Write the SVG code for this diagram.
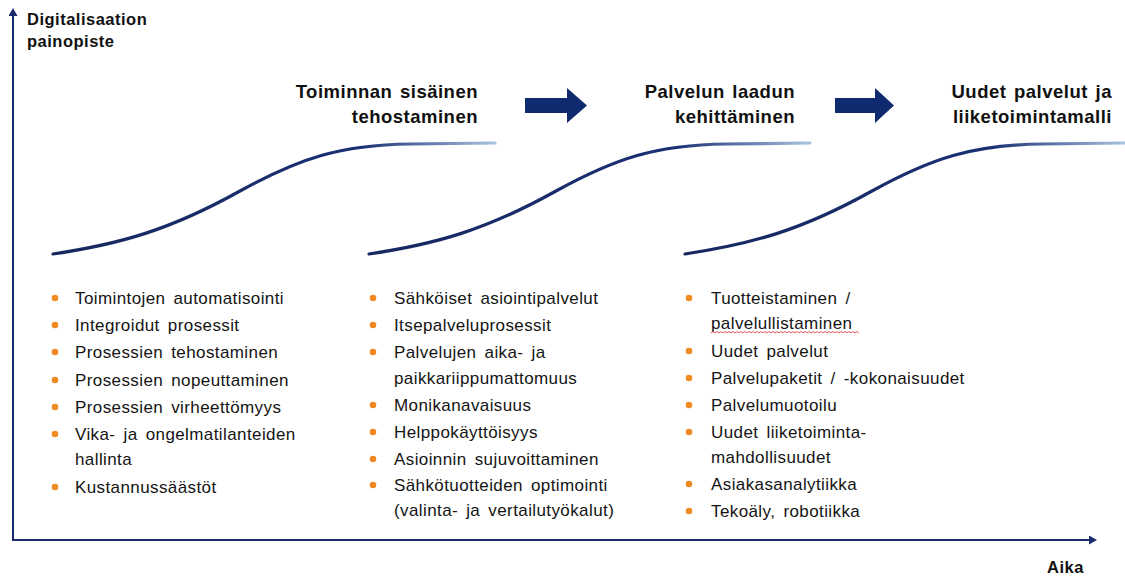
<svg xmlns="http://www.w3.org/2000/svg" width="1125" height="577" viewBox="0 0 1125 577">
<style>
.t{font-family:"Liberation Sans",Arial,sans-serif;font-size:17px;letter-spacing:0.4px;fill:#141414;word-spacing:3px}
.h{font-family:"Liberation Sans",Arial,sans-serif;font-size:18.5px;letter-spacing:0.5px;font-weight:bold;fill:#111;text-anchor:end;word-spacing:2px}
.ax{font-family:"Liberation Sans",Arial,sans-serif;font-size:16.5px;letter-spacing:0.5px;font-weight:bold;fill:#111}
.b{fill:#f08a24}
.curve{fill:none;stroke:url(#cg);stroke-width:3.2;stroke-linecap:round}
.blk{fill:#0f2a6e}
</style>
<defs>
<linearGradient id="cg" x1="0" y1="0" x2="1" y2="0">
<stop offset="0" stop-color="#16285e"/>
<stop offset="0.7" stop-color="#1b3075"/>
<stop offset="1" stop-color="#a9c4e0"/>
</linearGradient>
<marker id="ah" markerWidth="9" markerHeight="9" refX="6" refY="4.5" orient="auto" markerUnits="userSpaceOnUse">
<path d="M0,0 L8,4.5 L0,9 Z" fill="#1a2a6c"/>
</marker>
</defs>
<rect width="1125" height="577" fill="#fff"/>
<g id="connectors">
<line x1="13" y1="541" x2="13" y2="10" stroke="#1a2a6c" stroke-width="2" marker-end="url(#ah)"/>
<line x1="12" y1="540" x2="1095" y2="540" stroke="#1a2a6c" stroke-width="2" marker-end="url(#ah)"/>
<path class="blk" d="M525,98 H567 V88 L587,105.5 L567,123 V113 H525 Z"/>
<path class="blk" d="M835,98 H875 V88 L894,105.5 L875,123 V113 H835 Z"/>
</g>
<g id="axis-labels">
<text class="ax" x="27" y="25">Digitalisaation</text>
<text class="ax" x="27" y="47">painopiste</text>
<text class="ax" x="1047" y="573">Aika</text>
</g>
<g id="stage1">
<path class="curve" d="M53,254 C120,244 170,230 240,191 C300,158 340,145 410,144 L495,143"/>
<text class="h" x="478" y="98">Toiminnan  sisäinen</text>
<text class="h" x="478" y="123">tehostaminen</text>
<circle class="b" cx="55" cy="298" r="3.3"/><text class="t" x="75" y="304">Toimintojen  automatisointi</text>
<circle class="b" cx="55" cy="325" r="3.3"/><text class="t" x="75" y="331">Integroidut  prosessit</text>
<circle class="b" cx="55" cy="352" r="3.3"/><text class="t" x="75" y="358">Prosessien  tehostaminen</text>
<circle class="b" cx="55" cy="380" r="3.3"/><text class="t" x="75" y="386">Prosessien  nopeuttaminen</text>
<circle class="b" cx="55" cy="407" r="3.3"/><text class="t" x="75" y="413">Prosessien  virheettömyys</text>
<circle class="b" cx="55" cy="434" r="3.3"/><text class="t" x="75" y="440">Vika-  ja  ongelmatilanteiden</text>
<text class="t" x="75" y="465">hallinta</text>
<circle class="b" cx="55" cy="487" r="3.3"/><text class="t" x="75" y="493">Kustannussäästöt</text>
</g>
<g id="stage2">
<path class="curve" d="M369,254 C436,244 486,230 556,191 C616,158 656,145 726,144 L810,143"/>
<text class="h" x="795" y="98">Palvelun  laadun</text>
<text class="h" x="795" y="123">kehittäminen</text>
<circle class="b" cx="373" cy="298" r="3.3"/><text class="t" x="394" y="304">Sähköiset  asiointipalvelut</text>
<circle class="b" cx="373" cy="325" r="3.3"/><text class="t" x="394" y="331">Itsepalveluprosessit</text>
<circle class="b" cx="373" cy="352" r="3.3"/><text class="t" x="394" y="358">Palvelujen  aika-  ja</text>
<text class="t" x="394" y="384">paikkariippumattomuus</text>
<circle class="b" cx="373" cy="405" r="3.3"/><text class="t" x="394" y="411">Monikanavaisuus</text>
<circle class="b" cx="373" cy="432" r="3.3"/><text class="t" x="394" y="438">Helppokäyttöisyys</text>
<circle class="b" cx="373" cy="459" r="3.3"/><text class="t" x="394" y="465">Asioinnin  sujuvoittaminen</text>
<circle class="b" cx="373" cy="485" r="3.3"/><text class="t" x="394" y="491">Sähkötuotteiden  optimointi</text>
<text class="t" x="394" y="516">(valinta-  ja vertailutyökalut)</text>
</g>
<g id="stage3">
<path class="curve" d="M685,254 C752,244 802,230 872,191 C932,158 972,145 1042,144 L1125,143"/>
<text class="h" x="1112" y="98">Uudet palvelut  ja</text>
<text class="h" x="1112" y="123">liiketoimintamalli</text>
<circle class="b" cx="689" cy="298" r="3.3"/><text class="t" x="711" y="304">Tuotteistaminen  /</text>
<text class="t" x="711" y="329">palvelullistaminen</text>
<path d="M711,333 l2,-1.5 l2,1.5 l2,-1.5 l2,1.5 l2,-1.5 l2,1.5 l2,-1.5 l2,1.5 l2,-1.5 l2,1.5 l2,-1.5 l2,1.5 l2,-1.5 l2,1.5 l2,-1.5 l2,1.5 l2,-1.5 l2,1.5 l2,-1.5 l2,1.5 l2,-1.5 l2,1.5 l2,-1.5 l2,1.5 l2,-1.5 l2,1.5 l2,-1.5 l2,1.5 l2,-1.5 l2,1.5 l2,-1.5 l2,1.5 l2,-1.5 l2,1.5 l2,-1.5 l2,1.5 l2,-1.5 l2,1.5 l2,-1.5 l2,1.5 l2,-1.5 l2,1.5 l2,-1.5 l2,1.5 l2,-1.5 l2,1.5 l2,-1.5 l2,1.5 l2,-1.5 l2,1.5 l2,-1.5 l2,1.5 l2,-1.5 l2,1.5 l2,-1.5 l2,1.5 l2,-1.5 l2,1.5 l2,-1.5 l2,1.5 l2,-1.5 l2,1.5 l2,-1.5 l2,1.5 l2,-1.5 l2,1.5 l2,-1.5 l2,1.5 l2,-1.5 l2,1.5 l2,-1.5 l2,1.5 l2,-1.5 l2,1.5" fill="none" stroke="#e03030" stroke-width="0.8"/>
<circle class="b" cx="689" cy="351" r="3.3"/><text class="t" x="711" y="357">Uudet  palvelut</text>
<circle class="b" cx="689" cy="378" r="3.3"/><text class="t" x="711" y="384">Palvelupaketit  / -kokonaisuudet</text>
<circle class="b" cx="689" cy="405" r="3.3"/><text class="t" x="711" y="411">Palvelumuotoilu</text>
<circle class="b" cx="689" cy="432" r="3.3"/><text class="t" x="711" y="438">Uudet  liiketoiminta-</text>
<text class="t" x="711" y="463">mahdollisuudet</text>
<circle class="b" cx="689" cy="484" r="3.3"/><text class="t" x="711" y="490">Asiakasanalytiikka</text>
<circle class="b" cx="689" cy="511" r="3.3"/><text class="t" x="711" y="517">Tekoäly,  robotiikka</text>
</g>
</svg>
